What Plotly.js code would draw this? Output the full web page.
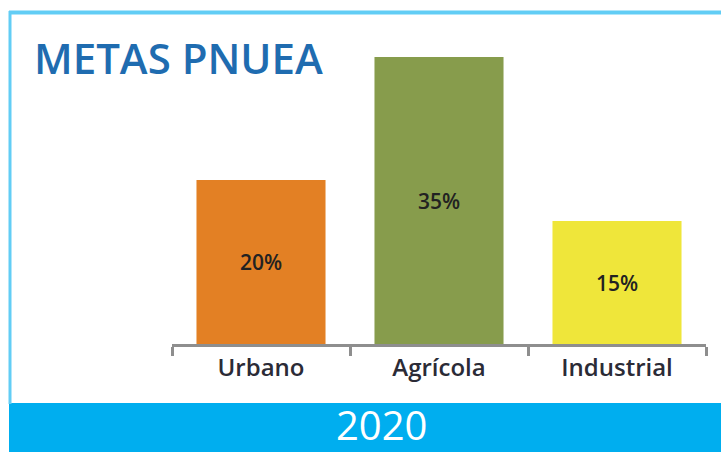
<!DOCTYPE html>
<html>
<head>
<meta charset="utf-8">
<script src="https://cdn.plot.ly/plotly-3.0.1.min.js"></script>
<style>html,body{margin:0;padding:0;background:#fff;}#chart{width:721px;height:452px;}</style>
</head>
<body>
<div id="chart"></div>
<script>
// Data
const categories = ["Urbano", "Agrícola", "Industrial"];
const values = [20, 35, 15];
const valueLabels = ["20%", "35%", "15%"];
const barColors = ["#e38024", "#879c4c", "#efe63a"];
const chartTitle = "METAS PNUEA";
const yearLabel = "2020";

// Layout geometry (pixels)
const W = 721, H = 452;
const L = 172, R = 706, T = 16, B = 344;
const px = x => (x - L) / (R - L);
const py = y => (B - y) / (B - T);

const trace = {
  type: "bar",
  x: categories,
  y: values,
  text: valueLabels,
  textposition: "inside",
  insidetextanchor: "middle",
  textangle: 0,
  textfont: {family: "Open Sans, sans-serif", size: 21, color: "#222222", weight: 600},
  marker: {color: barColors, line: {width: 0}},
  hoverinfo: "none",
  cliponaxis: false
};

const layout = {
  width: W, height: H,
  margin: {l: L, r: W - R, t: T, b: H - B, pad: 0},
  paper_bgcolor: "#ffffff",
  plot_bgcolor: "#ffffff",
  showlegend: false,
  bargap: 0.275,
  title: {
    text: chartTitle,
    xref: "container", yref: "container",
    x: 34 / W, xanchor: "left",
    y: 1 - 59 / H, yanchor: "middle",
    font: {family: "Open Sans, sans-serif", size: 42, color: "#1f6cb0", weight: 600}
  },
  xaxis: {
    type: "category",
    range: [-0.5, 2.5],
    showline: true, linecolor: "#8e8e8e", linewidth: 3,
    ticks: "outside", tickson: "boundaries", ticklen: 9, tickwidth: 3, tickcolor: "#8e8e8e",
    showgrid: false, zeroline: false,
    tickfont: {family: "Open Sans, sans-serif", size: 24, color: "#2b2b36", weight: 600},
    fixedrange: true
  },
  yaxis: {
    range: [0, 40],
    visible: false, showgrid: false, zeroline: false, fixedrange: true
  },
  shapes: [
    {type: "rect", xref: "paper", yref: "paper", x0: px(9), x1: px(W + 2), y0: py(403), y1: py(H + 2),
     fillcolor: "#00aeef", line: {width: 0}, layer: "below"},
    {type: "line", xref: "paper", yref: "paper", x0: px(9), x1: px(W + 2), y0: py(12.5), y1: py(12.5),
     line: {color: "#62cdf5", width: 4}},
    {type: "line", xref: "paper", yref: "paper", x0: px(10), x1: px(10), y0: py(11), y1: py(404),
     line: {color: "#62cdf5", width: 3}}
  ],
  annotations: [
    {text: yearLabel, xref: "paper", yref: "paper", x: px(381), y: py(424),
     xanchor: "center", yanchor: "middle", showarrow: false, borderpad: 0,
     font: {family: "Open Sans, sans-serif", size: 40, color: "#ffffff"}}
  ]
};

Plotly.newPlot("chart", [trace], layout, {displayModeBar: false, staticPlot: true});
</script>
</body>
</html>
